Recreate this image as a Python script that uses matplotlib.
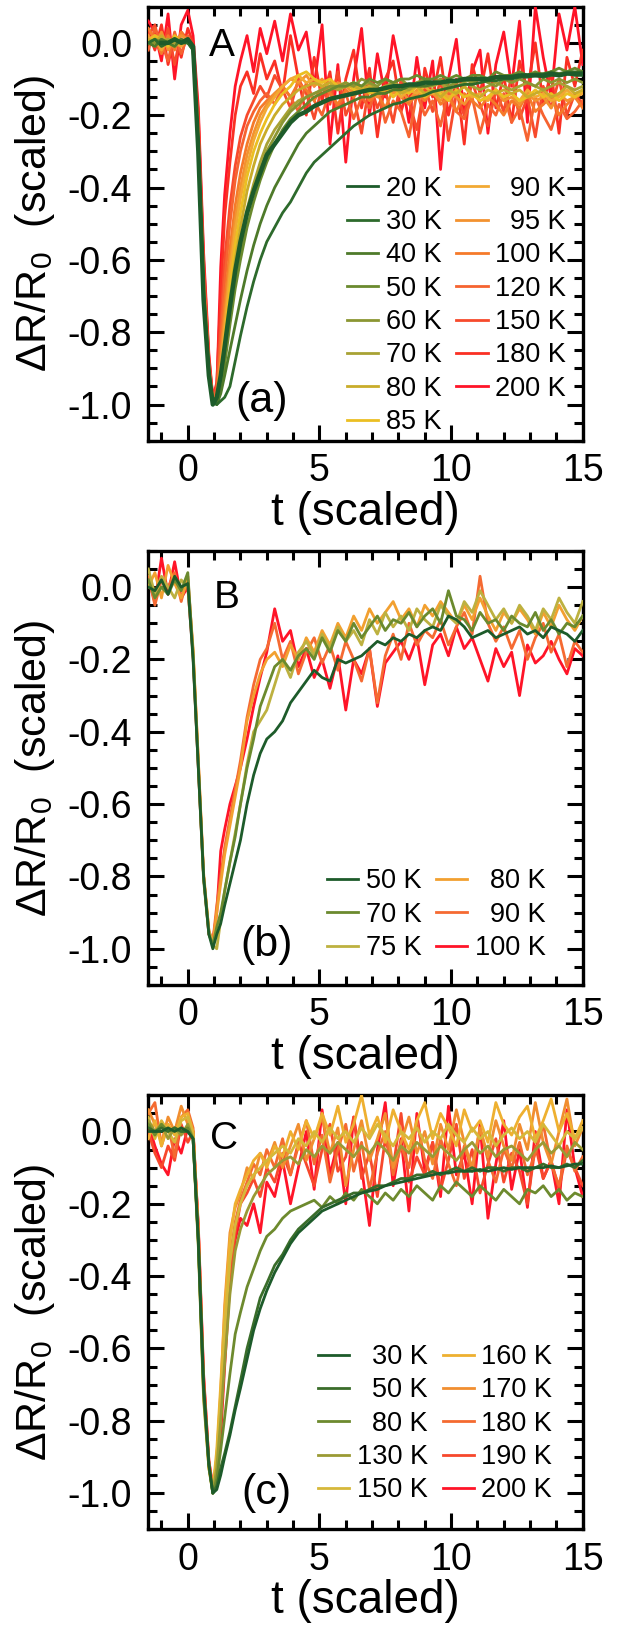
import numpy as np
import matplotlib
matplotlib.use('Agg')
import matplotlib.pyplot as plt
from matplotlib.ticker import MultipleLocator, FuncFormatter

plt.rcParams['font.family'] = ['Liberation Sans', 'DejaVu Sans']
plt.rcParams['mathtext.fontset'] = 'custom'
plt.rcParams['mathtext.rm'] = 'Liberation Sans'
plt.rcParams['mathtext.it'] = 'Liberation Sans:italic'
plt.rcParams['mathtext.default'] = 'regular'
plt.rcParams['axes.unicode_minus'] = False

# time grid (scaled), shared by all traces
T = [-1.5, -1.25, -1.0, -0.75, -0.5, -0.25, 0.0,
     0.2, 0.4, 0.6, 0.8, 0.95,
     1.1, 1.25, 1.4, 1.6, 1.8, 2.0, 2.25, 2.5, 2.75, 3.0,
     3.3, 3.6, 3.9, 4.2, 4.5, 4.8, 5.1, 5.4, 5.7, 6.0,
     6.3, 6.6, 6.9, 7.2, 7.5, 7.8, 8.1, 8.4, 8.7, 9.0,
     9.3, 9.6, 9.9, 10.2, 10.5, 10.8, 11.1, 11.4, 11.7, 12.0,
     12.3, 12.6, 12.9, 13.2, 13.5, 13.8, 14.1, 14.4, 14.7, 15.0]

####
# panel A
####
A_20 = [np.nan, np.nan, 0.0, 0.0, 0.01, 0.0, 0.01,
        -0.01, -0.3, -0.71, -0.92, -1.0,
        -0.98, -0.92, -0.84, -0.73, -0.63, -0.55, -0.47, -0.41, -0.36, -0.31,
        -0.28, -0.25, -0.22, -0.2, -0.19, -0.175, -0.165, -0.155, -0.15, -0.145,
        -0.14, -0.135, -0.13, -0.13, -0.125, -0.12, -0.12, -0.115, -0.115, -0.11,
        -0.11, -0.11, -0.105, -0.105, -0.1, -0.1, -0.1, -0.1, -0.095, -0.095,
        -0.095, -0.09, -0.09, -0.09, -0.09, -0.085, -0.09, -0.085, -0.085, -0.085]
A_30 = [0.0, 0.01, -0.01, 0.0, 0.01, 0.0, 0.0,
        -0.02, -0.28, -0.68, -0.9, -0.99,
        -1.0, -0.99, -0.98, -0.95, -0.88, -0.81, -0.73, -0.66, -0.6, -0.55,
        -0.51, -0.47, -0.44, -0.4, -0.36, -0.33, -0.31, -0.29, -0.27, -0.25,
        -0.23, -0.215, -0.2, -0.19, -0.18, -0.17, -0.165, -0.155, -0.15, -0.145,
        -0.135, -0.13, -0.125, -0.12, -0.115, -0.115, -0.11, -0.105, -0.105, -0.1,
        -0.1, -0.095, -0.095, -0.09, -0.095, -0.09, -0.09, -0.085, -0.09, -0.09]
A_40 = [0.0, -0.01, 0.01, 0.0, -0.01, 0.01, 0.0,
        -0.02, -0.29, -0.7, -0.91, -0.99,
        -1.0, -0.97, -0.92, -0.85, -0.78, -0.71, -0.63, -0.56, -0.5, -0.45,
        -0.4, -0.36, -0.32, -0.28, -0.25, -0.23, -0.21, -0.19, -0.18, -0.17,
        -0.16, -0.15, -0.15, -0.14, -0.14, -0.13, -0.13, -0.12, -0.12, -0.12,
        -0.115, -0.11, -0.11, -0.105, -0.105, -0.1, -0.1, -0.1, -0.095, -0.095,
        -0.09, -0.09, -0.09, -0.085, -0.085, -0.08, -0.085, -0.08, -0.08, -0.08]
A_50 = [0.0, 0.01, 0.0, 0.0, 0.01, 0.0, 0.0,
        -0.01, -0.29, -0.7, -0.92, -0.99,
        -1.0, -0.96, -0.89, -0.78, -0.68, -0.6, -0.51, -0.44, -0.38, -0.33,
        -0.28, -0.24, -0.21, -0.19, -0.17, -0.15, -0.14, -0.13, -0.12, -0.12,
        -0.11, -0.12, -0.1, -0.11, -0.1, -0.11, -0.1, -0.1, -0.09, -0.1,
        -0.1, -0.09, -0.1, -0.09, -0.1, -0.09, -0.09, -0.1, -0.08, -0.09,
        -0.09, -0.08, -0.09, -0.08, -0.09, -0.08, -0.07, -0.08, -0.07, -0.08]
A_60 = [0.0, 0.0, 0.01, 0.0, 0.01, 0.0, 0.01,
        -0.01, -0.29, -0.7, -0.92, -0.99,
        -0.99, -0.95, -0.87, -0.76, -0.65, -0.57, -0.48, -0.41, -0.35, -0.3,
        -0.26, -0.22, -0.19, -0.17, -0.15, -0.14, -0.13, -0.12, -0.12, -0.11,
        -0.12, -0.1, -0.11, -0.12, -0.1, -0.11, -0.1, -0.12, -0.11, -0.1,
        -0.11, -0.1, -0.12, -0.11, -0.1, -0.11, -0.1, -0.11, -0.12, -0.1,
        -0.11, -0.1, -0.11, -0.12, -0.1, -0.11, -0.1, -0.11, -0.1, -0.11]
A_70 = [0.0, 0.01, 0.0, 0.01, 0.0, 0.01, 0.0,
        -0.01, -0.29, -0.7, -0.91, -0.99,
        -0.99, -0.94, -0.86, -0.74, -0.63, -0.55, -0.46, -0.39, -0.33, -0.28,
        -0.24, -0.21, -0.18, -0.16, -0.15, -0.14, -0.13, -0.12, -0.13, -0.12,
        -0.11, -0.12, -0.11, -0.13, -0.12, -0.11, -0.12, -0.13, -0.11, -0.12,
        -0.12, -0.11, -0.13, -0.12, -0.11, -0.12, -0.13, -0.12, -0.11, -0.12,
        -0.13, -0.12, -0.11, -0.12, -0.13, -0.12, -0.11, -0.12, -0.13, -0.12]
A_80 = [0.01, 0.0, 0.02, 0.0, -0.01, 0.01, 0.0,
        -0.01, -0.28, -0.69, -0.91, -0.99,
        -0.99, -0.93, -0.84, -0.71, -0.6, -0.51, -0.41, -0.34, -0.28, -0.24,
        -0.2, -0.17, -0.15, -0.13, -0.12, -0.11, -0.12, -0.11, -0.13, -0.12,
        -0.12, -0.13, -0.12, -0.14, -0.13, -0.12, -0.14, -0.13, -0.12, -0.14,
        -0.13, -0.15, -0.13, -0.14, -0.12, -0.14, -0.15, -0.13, -0.14, -0.13,
        -0.14, -0.13, -0.15, -0.14, -0.13, -0.15, -0.14, -0.12, -0.14, -0.13]
A_85 = [0.0, 0.02, 0.01, -0.01, 0.02, 0.0, 0.01,
        -0.01, -0.28, -0.69, -0.91, -0.99,
        -0.98, -0.92, -0.82, -0.68, -0.56, -0.47, -0.37, -0.3, -0.25, -0.21,
        -0.17, -0.14, -0.12, -0.09, -0.08, -0.1, -0.11, -0.1, -0.12, -0.11,
        -0.13, -0.12, -0.14, -0.13, -0.12, -0.15, -0.13, -0.14, -0.12, -0.15,
        -0.13, -0.14, -0.16, -0.13, -0.15, -0.14, -0.16, -0.15, -0.13, -0.15,
        -0.14, -0.16, -0.15, -0.13, -0.15, -0.14, -0.16, -0.14, -0.15, -0.13]
A_90 = [0.01, 0.02, -0.02, 0.01, 0.0, -0.01, 0.01,
        -0.01, -0.27, -0.68, -0.9, -0.99,
        -0.98, -0.9, -0.79, -0.64, -0.52, -0.43, -0.34, -0.27, -0.22, -0.18,
        -0.15, -0.12, -0.1, -0.09, -0.11, -0.1, -0.12, -0.11, -0.13, -0.12,
        -0.11, -0.13, -0.12, -0.14, -0.13, -0.12, -0.15, -0.13, -0.14, -0.12,
        -0.14, -0.13, -0.15, -0.14, -0.12, -0.15, -0.14, -0.16, -0.13, -0.15,
        -0.14, -0.16, -0.13, -0.15, -0.14, -0.16, -0.15, -0.13, -0.15, -0.14]
A_95 = [0.02, -0.01, 0.03, -0.02, 0.01, 0.02, 0.01,
        -0.01, -0.27, -0.67, -0.9, -0.99,
        -0.98, -0.88, -0.76, -0.61, -0.49, -0.4, -0.31, -0.25, -0.2, -0.17,
        -0.14, -0.12, -0.1, -0.11, -0.09, -0.12, -0.1, -0.13, -0.11, -0.12,
        -0.14, -0.12, -0.13, -0.15, -0.12, -0.14, -0.13, -0.16, -0.13, -0.15,
        -0.14, -0.16, -0.13, -0.15, -0.17, -0.14, -0.16, -0.15, -0.13, -0.16,
        -0.15, -0.17, -0.14, -0.16, -0.15, -0.18, -0.14, -0.16, -0.15, -0.14]
A_100 = [0.04, 0.01, -0.03, 0.02, -0.02, 0.03, 0.0,
         -0.01, -0.26, -0.66, -0.9, -0.99,
         -0.97, -0.86, -0.72, -0.57, -0.45, -0.36, -0.28, -0.22, -0.18, -0.16,
         -0.14, -0.12, -0.15, -0.11, -0.13, -0.16, -0.12, -0.14, -0.17, -0.13,
         -0.15, -0.12, -0.16, -0.14, -0.18, -0.13, -0.15, -0.17, -0.14, -0.16,
         -0.13, -0.17, -0.15, -0.19, -0.14, -0.16, -0.18, -0.15, -0.17, -0.2,
         -0.16, -0.18, -0.14, -0.19, -0.17, -0.15, -0.2, -0.17, -0.15, -0.18]
A_120 = [-0.02, 0.04, 0.0, -0.05, 0.03, -0.03, 0.02,
         -0.01, -0.24, -0.64, -0.89, -0.99,
         -0.96, -0.82, -0.66, -0.5, -0.38, -0.3, -0.23, -0.19, -0.16, -0.14,
         -0.17, -0.12, -0.15, -0.19, -0.11, -0.16, -0.2, -0.13, -0.18, -0.14,
         -0.21, -0.15, -0.18, -0.12, -0.22, -0.16, -0.19, -0.26, -0.14, -0.2,
         -0.16, -0.23, -0.13, -0.19, -0.21, -0.15, -0.25, -0.17, -0.2, -0.14,
         -0.22, -0.18, -0.27, -0.15, -0.2, -0.24, -0.17, -0.21, -0.19, -0.16]
A_150 = [0.02, 0.05, -0.03, 0.04, -0.06, 0.03, 0.01,
         -0.01, -0.22, -0.62, -0.88, -0.99,
         -0.95, -0.78, -0.6, -0.45, -0.34, -0.26, -0.2, -0.16, -0.12, -0.15,
         -0.09, -0.13, -0.18, -0.1, -0.14, -0.21, -0.12, -0.17, -0.08, -0.2,
         -0.15, -0.25, -0.11, -0.18, -0.13, -0.22, -0.1, -0.16, -0.24, -0.12,
         -0.19, -0.1, -0.27, -0.14, -0.2, -0.11, -0.17, -0.23, -0.13, -0.19,
         -0.09, -0.21, -0.15, -0.26, -0.12, -0.18, -0.1, -0.2, -0.14, -0.17]
A_180 = [0.03, -0.02, 0.05, -0.06, 0.02, -0.04, 0.04,
         0.0, -0.2, -0.6, -0.87, -0.98,
         -0.94, -0.7, -0.48, -0.33, -0.2, -0.12, -0.08, -0.14, -0.03, -0.1,
         -0.05, -0.14, 0.02, -0.1, -0.2, -0.04, -0.16, -0.08, -0.25, -0.1,
         -0.02, -0.18, -0.07, -0.26, -0.1, -0.05, -0.19, -0.12, -0.3, -0.07,
         -0.15, -0.04, -0.2, -0.1, -0.28, -0.06, -0.14, -0.03, -0.18, -0.09,
         -0.22, -0.05, -0.13, 0.0, -0.17, -0.08, -0.25, -0.04, -0.12, -0.02]
A_200 = [0.06, 0.03, -0.05, 0.08, -0.1, 0.05, 0.09,
         0.02, -0.18, -0.58, -0.86, -0.98,
         -0.96, -0.62, -0.42, -0.25, -0.12, -0.05, 0.02, -0.08, 0.04, -0.03,
         0.06, -0.05, 0.08, -0.02, 0.03, -0.12, 0.05, -0.28, -0.06, -0.33,
         -0.1, 0.04, -0.2, -0.03, -0.15, 0.02, -0.09, -0.22, -0.04, -0.18,
         -0.05, -0.35, -0.1, 0.01, -0.2, -0.08, -0.02, -0.25, -0.06, 0.03,
         -0.12, 0.06, -0.22, 0.1, -0.04, -0.15, 0.08, -0.02, 0.1, -0.06]

labels_a = ['20 K', '30 K', '40 K', '50 K', '60 K', '70 K', '80 K', '85 K',
            '  90 K', '  95 K', '100 K', '120 K', '150 K', '180 K', '200 K']
colors_a = ['#1d5b2a', '#2d6a2c', '#4e7a2a', '#6a8a2e', '#8b9632', '#a8a234',
            '#c9ac2a', '#ebbf22', '#f2a933', '#f3922f', '#f57a2a', '#f66330',
            '#f74a2c', '#fa3024', '#ff1428']
curves_a = [A_20, A_30, A_40, A_50, A_60, A_70, A_80, A_85,
            A_90, A_95, A_100, A_120, A_150, A_180, A_200]

####
# panel B
####
B_50 = [0.0, -0.01, 0.02, -0.02, 0.03, 0.0, 0.01,
        -0.2, -0.5, -0.8, -0.96, -1.0,
        -0.96, -0.93, -0.88, -0.82, -0.76, -0.7, -0.6, -0.52, -0.46, -0.42,
        -0.4, -0.37, -0.32, -0.29, -0.26, -0.23, -0.25, -0.26, -0.2, -0.21,
        -0.2, -0.19, -0.17, -0.15, -0.16, -0.14, -0.15, -0.13, -0.14, -0.12,
        -0.11, -0.12, -0.08, -0.09, -0.11, -0.14, -0.13, -0.12, -0.14, -0.13,
        -0.12, -0.11, -0.13, -0.12, -0.14, -0.11, -0.12, -0.13, -0.15, -0.12]
B_70 = [0.02, -0.03, 0.0, -0.02, 0.02, -0.01, 0.04,
        -0.19, -0.5, -0.81, -0.96, -0.99,
        -0.94, -0.9, -0.84, -0.76, -0.69, -0.6, -0.5, -0.42, -0.33, -0.28,
        -0.22, -0.2, -0.23, -0.19, -0.17, -0.2, -0.14, -0.18, -0.12, -0.15,
        -0.1, -0.14, -0.11, -0.08, -0.12, -0.09, -0.1, -0.07, -0.11, -0.08,
        -0.06, -0.1, -0.01, -0.08, -0.09, -0.12, -0.07, -0.1, -0.09, -0.12,
        -0.08, -0.1, -0.11, -0.07, -0.12, -0.09, -0.13, -0.1, -0.11, -0.08]
B_75 = [0.05, -0.02, 0.03, 0.0, -0.03, 0.02, 0.0,
        -0.18, -0.49, -0.8, -0.95, -0.99,
        -1.0, -0.92, -0.84, -0.76, -0.68, -0.6, -0.49, -0.4, -0.37, -0.34,
        -0.27, -0.2, -0.25, -0.18, -0.15, -0.19, -0.13, -0.17, -0.11, -0.15,
        -0.12, -0.16, -0.09, -0.13, -0.07, -0.11, -0.08, -0.12, -0.06, -0.09,
        -0.11, -0.05, -0.08, -0.1, -0.04, -0.07, -0.01, -0.05, -0.09, -0.06,
        -0.1, -0.05, -0.08, -0.12, -0.06, -0.09, -0.03, -0.07, -0.1, -0.04]
B_80 = [0.0, 0.04, -0.03, 0.06, 0.01, -0.03, 0.02,
        -0.17, -0.48, -0.79, -0.95, -0.99,
        -0.9, -0.82, -0.74, -0.66, -0.58, -0.5, -0.37, -0.3, -0.24, -0.2,
        -0.18, -0.22, -0.16, -0.2, -0.14, -0.18, -0.12, -0.16, -0.1, -0.14,
        -0.08, -0.12, -0.06, -0.1, -0.07, -0.04, -0.09, -0.06, -0.11, -0.05,
        -0.08, -0.04, -0.07, -0.1, -0.05, -0.09, -0.03, -0.08, -0.12, -0.07,
        -0.1, -0.06, -0.09, -0.13, -0.07, -0.11, -0.05, -0.09, -0.12, -0.08]
B_90 = [0.03, -0.05, 0.02, 0.0, 0.04, -0.04, 0.03,
        -0.18, -0.48, -0.8, -0.95, -0.98,
        -0.88, -0.8, -0.72, -0.64, -0.56, -0.48, -0.36, -0.27, -0.2, -0.17,
        -0.1, -0.2, -0.15, -0.24, -0.18, -0.14, -0.21, -0.16, -0.23, -0.15,
        -0.2, -0.26, -0.17, -0.32, -0.19, -0.13, -0.2, -0.1, -0.16, -0.12,
        -0.14, -0.09, -0.16, -0.11, -0.07, -0.13, 0.03, -0.1, -0.15, -0.11,
        -0.17, -0.12, -0.2, -0.14, -0.1, -0.18, -0.13, -0.22, -0.15, -0.18]
B_100 = [0.02, -0.04, 0.08, -0.02, 0.07, -0.03, 0.0,
         -0.19, -0.5, -0.8, -0.96, -0.98,
         -0.9, -0.73, -0.67, -0.6, -0.55, -0.5, -0.42, -0.33, -0.25, -0.18,
         -0.06, -0.15, -0.12, -0.22, -0.17, -0.25, -0.2, -0.28, -0.19, -0.34,
         -0.2, -0.24, -0.17, -0.33, -0.21, -0.18, -0.15, -0.2, -0.14, -0.27,
         -0.16, -0.13, -0.19, -0.11, -0.17, -0.14, -0.2, -0.26, -0.17, -0.22,
         -0.18, -0.3, -0.16, -0.21, -0.19, -0.15, -0.2, -0.24, -0.17, -0.19]

labels_b = ['50 K', '70 K', '75 K', '  80 K', '  90 K', '100 K']
colors_b = ['#1d5b2a', '#6b8a2e', '#bdb140', '#f2a030', '#f56a32', '#ff1428']
curves_b = [B_50, B_70, B_75, B_80, B_90, B_100]

####
# panel C
####
C_30 = [0.0, 0.0, 0.0, 0.01, 0.0, 0.01, 0.0,
        -0.02, -0.3, -0.7, -0.92, -1.0,
        -0.99, -0.95, -0.9, -0.84, -0.77, -0.71, -0.63, -0.55, -0.49, -0.44,
        -0.39, -0.35, -0.31, -0.28, -0.26, -0.24, -0.22, -0.21, -0.2, -0.19,
        -0.18, -0.17, -0.165, -0.16, -0.15, -0.145, -0.14, -0.135, -0.13, -0.125,
        -0.12, -0.115, -0.115, -0.11, -0.11, -0.11, -0.105, -0.11, -0.105, -0.1,
        -0.105, -0.1, -0.1, -0.1, -0.1, -0.095, -0.1, -0.095, -0.09, -0.09]
C_50 = [0.01, 0.0, 0.01, 0.0, 0.01, 0.0, 0.0,
        -0.02, -0.3, -0.71, -0.92, -1.0,
        -0.98, -0.93, -0.89, -0.83, -0.76, -0.69, -0.6, -0.53, -0.46, -0.42,
        -0.37, -0.34, -0.3, -0.27, -0.25, -0.23, -0.21, -0.2, -0.19, -0.18,
        -0.17, -0.17, -0.16, -0.15, -0.15, -0.14, -0.13, -0.13, -0.12, -0.12,
        -0.11, -0.12, -0.11, -0.1, -0.11, -0.1, -0.11, -0.1, -0.1, -0.11,
        -0.1, -0.1, -0.11, -0.1, -0.09, -0.1, -0.1, -0.09, -0.1, -0.08]
C_80 = [0.02, -0.01, 0.02, 0.0, 0.01, 0.0, 0.01,
        -0.02, -0.31, -0.72, -0.92, -1.0,
        -0.96, -0.88, -0.79, -0.67, -0.56, -0.5, -0.43, -0.38, -0.33, -0.29,
        -0.27, -0.24, -0.22, -0.21, -0.2, -0.19, -0.21, -0.18, -0.2, -0.17,
        -0.19, -0.16, -0.18, -0.2, -0.17, -0.19, -0.16, -0.18, -0.15, -0.17,
        -0.19, -0.15, -0.17, -0.14, -0.16, -0.18, -0.15, -0.17, -0.19, -0.16,
        -0.18, -0.2, -0.16, -0.17, -0.15, -0.18, -0.16, -0.19, -0.17, -0.18]
C_130 = [0.03, 0.0, 0.02, -0.02, 0.01, -0.01, 0.02,
         -0.02, -0.32, -0.74, -0.93, -1.0,
         -0.93, -0.8, -0.64, -0.45, -0.33, -0.27, -0.22, -0.18, -0.15, -0.12,
         -0.1, -0.08, -0.07, -0.09, -0.05, -0.07, -0.04, -0.06, -0.03, -0.05,
         -0.07, -0.04, -0.06, -0.03, -0.05, -0.08, -0.04, -0.06, -0.03, -0.05,
         -0.07, -0.04, -0.06, -0.08, -0.05, -0.03, -0.06, -0.04, -0.07, -0.05,
         -0.04, -0.06, -0.08, -0.05, -0.03, -0.06, -0.04, -0.07, -0.03, -0.05]
C_150 = [0.04, -0.02, 0.03, 0.0, -0.03, 0.03, 0.04,
         -0.01, -0.31, -0.73, -0.93, -1.0,
         -0.9, -0.74, -0.55, -0.36, -0.26, -0.2, -0.15, -0.12, -0.1, -0.08,
         -0.06, -0.04, -0.06, -0.02, -0.04, 0.0, -0.03, 0.01, -0.02, 0.0,
         -0.03, 0.01, -0.02, 0.02, -0.01, -0.04, 0.0, -0.02, 0.01, -0.03,
         0.0, -0.02, 0.02, -0.01, -0.03, 0.01, -0.02, 0.0, -0.04, -0.01,
         0.01, -0.02, 0.0, -0.03, 0.02, -0.01, -0.04, 0.0, -0.02, 0.01]
C_160 = [-0.02, 0.03, -0.04, 0.02, -0.01, 0.04, 0.05,
         0.0, -0.3, -0.72, -0.93, -0.99,
         -0.88, -0.7, -0.5, -0.3, -0.2, -0.16, -0.12, -0.08, -0.06, -0.1,
         -0.04, -0.07, 0.0, -0.05, 0.03, -0.02, 0.05, -0.01, 0.07, -0.03,
         0.02, 0.1, -0.01, 0.04, -0.03, 0.06, 0.0, -0.05, 0.03, 0.08,
         -0.02, 0.05, 0.01, -0.04, 0.06, 0.0, 0.03, -0.03, 0.08, 0.02,
         -0.01, 0.04, 0.07, -0.02, 0.03, 0.09, 0.0, 0.05, -0.02, 0.03]
C_170 = [0.06, 0.02, -0.03, 0.04, 0.0, 0.07, 0.02,
         0.0, -0.28, -0.7, -0.92, -0.99,
         -0.9, -0.72, -0.48, -0.28, -0.21, -0.17, -0.1, -0.13, -0.06, -0.09,
         -0.03, -0.1, -0.04, 0.02, -0.08, -0.02, 0.04, -0.06, 0.01, -0.15,
         -0.05, 0.03, -0.08, -0.02, 0.05, -0.1, -0.03, 0.04, -0.06, 0.0,
         -0.09, 0.02, -0.05, 0.06, -0.03, -0.1, 0.01, -0.07, 0.03, -0.04,
         -0.08, 0.02, -0.05, 0.08, -0.03, -0.09, 0.0, 0.09, -0.04, 0.01]
C_180 = [0.05, 0.08, -0.04, 0.02, -0.07, 0.04, 0.06,
         0.01, -0.27, -0.69, -0.92, -0.99,
         -0.92, -0.76, -0.54, -0.35, -0.25, -0.19, -0.14, -0.09, -0.12, -0.05,
         -0.1, -0.02, -0.12, -0.04, 0.03, -0.09, -0.01, -0.14, -0.05, 0.02,
         -0.11, -0.03, -0.16, -0.06, 0.0, -0.12, -0.04, -0.1, 0.03, -0.08,
         -0.13, -0.02, -0.09, -0.15, -0.04, -0.11, 0.01, -0.08, -0.14, -0.05,
         -0.1, -0.03, -0.12, -0.06, 0.02, -0.09, -0.15, -0.04, -0.11, -0.07]
C_190 = [0.0, -0.06, -0.1, -0.04, -0.08, 0.02, -0.03,
         0.0, -0.27, -0.68, -0.91, -0.99,
         -0.94, -0.8, -0.6, -0.4, -0.28, -0.2, -0.17, -0.13, -0.18, -0.1,
         -0.14, -0.06, -0.12, -0.03, -0.09, -0.15, -0.05, 0.02, -0.11, -0.07,
         0.04, -0.13, -0.06, -0.18, -0.02, -0.1, 0.05, -0.14, -0.07, -0.12,
         -0.03, -0.16, -0.08, 0.02, -0.13, -0.05, -0.17, -0.09, -0.02, -0.14,
         -0.06, -0.11, -0.2, -0.04, -0.13, -0.08, -0.16, -0.05, -0.1, -0.15]
C_200 = [0.02, -0.04, -0.09, -0.12, -0.02, -0.06, 0.01,
         0.0, -0.26, -0.67, -0.91, -0.98,
         -0.95, -0.84, -0.65, -0.42, -0.3, -0.24, -0.26, -0.2, -0.28, -0.14,
         -0.18, -0.08, -0.2, -0.1, 0.0, -0.16, 0.06, -0.12, -0.03, -0.2,
         0.04, -0.1, -0.26, -0.05, 0.08, -0.15, -0.02, -0.22, 0.05, -0.11,
         -0.03, -0.18, 0.07, -0.12, -0.06, -0.2, 0.02, -0.24, -0.09, 0.03,
         -0.16, -0.05, -0.21, 0.0, -0.13, -0.08, -0.2, 0.06, -0.1, -0.18]

labels_c = ['  30 K', '  50 K', '  80 K', '130 K', '150 K',
            '160 K', '170 K', '180 K', '190 K', '200 K']
colors_c = ['#1d5b2a', '#3a6d2a', '#6d8a2e', '#9a9a34', '#d6b83a',
            '#eeb030', '#f18e30', '#f46a30', '#f7482c', '#ff1428']
curves_c = [C_30, C_50, C_80, C_130, C_150, C_160, C_170, C_180, C_190, C_200]


def style_axes(ax):
    ax.set_xlim(-1.5, 15)
    ax.set_ylim(-1.1, 0.1)
    ax.xaxis.set_major_locator(MultipleLocator(5))
    ax.xaxis.set_minor_locator(MultipleLocator(1))
    ax.yaxis.set_major_locator(MultipleLocator(0.2))
    ax.yaxis.set_minor_locator(MultipleLocator(0.05))
    ax.yaxis.set_major_formatter(
        FuncFormatter(lambda v, p: '0.0' if abs(v) < 1e-9 else '%.1f' % v))
    ax.tick_params(which='both', direction='in', top=True, right=True,
                   width=2.2, labelsize=27)
    ax.tick_params(axis='x', which='both', pad=9)
    ax.tick_params(axis='y', which='both', pad=11.5)
    ax.tick_params(which='major', length=11.5)
    ax.tick_params(which='minor', length=6.5)
    for s in ax.spines.values():
        s.set_linewidth(2.4)
    ax.set_xlabel('t (scaled)', fontsize=33, labelpad=1)
    ax.set_ylabel('ΔR/R$_0$  (scaled)', fontsize=31, labelpad=8)


def draw_panel(ax, curves, labels, colors, letter, letter_xy, tag, tag_xy,
               leg_anchor, thick=()):
    n = len(curves)
    for i in range(n):
        lw = 3.2 if i in thick else 2.0
        ax.plot(T, curves[i], color=colors[i], lw=lw, label=labels[i],
                zorder=10 + n - i)
    style_axes(ax)
    ax.text(letter_xy[0], letter_xy[1], letter, fontsize=28,
            ha='center', va='center', zorder=40)
    ax.text(tag_xy[0], tag_xy[1], tag, fontsize=31,
            ha='center', va='center', zorder=40)
    leg = ax.legend(loc='lower right', bbox_to_anchor=leg_anchor, ncol=2,
                    frameon=False, fontsize=19.5, handlelength=1.15,
                    handletextpad=0.28, columnspacing=0.55, labelspacing=0.27,
                    borderpad=0, borderaxespad=0)
    for h in leg.get_lines():
        h.set_linewidth(2.0)


fig = plt.figure(figsize=(6.19, 16.28), dpi=100)
ax_a = fig.add_axes([0.2396, 0.7293, 0.7018, 0.2666])
ax_b = fig.add_axes([0.2396, 0.3950, 0.7018, 0.2666])
ax_c = fig.add_axes([0.2396, 0.0606, 0.7018, 0.2666])

draw_panel(ax_a, curves_a, labels_a, colors_a, 'A', (1.3, -0.01),
           '(a)', (2.8, -0.99), (0.962, 0.013), thick=(0,))
draw_panel(ax_b, curves_b, labels_b, colors_b, 'B', (1.48, -0.03),
           '(b)', (3.0, -0.99), (0.915, 0.055))
draw_panel(ax_c, curves_c, labels_c, colors_c, 'C', (1.36, -0.02),
           '(c)', (3.0, -1.0), (0.93, 0.06))

fig.savefig('out.png', dpi=100)
